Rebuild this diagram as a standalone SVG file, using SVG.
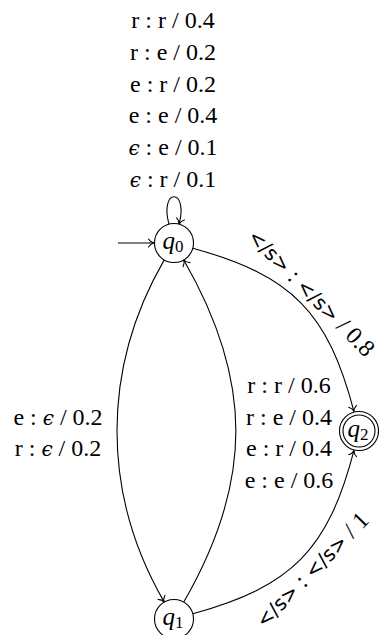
<svg xmlns="http://www.w3.org/2000/svg" width="379" height="635" viewBox="0 0 379 635">
<defs>
<style>
.edge{fill:none;stroke:#000;stroke-width:1.1;marker-end:url(#arr)}
.st{fill:#fff;stroke:#000;stroke-width:1.1}
.lbl{font-family:"Liberation Serif","DejaVu Serif",serif;font-size:24px;fill:#000;text-anchor:middle}
.q{font-family:"Liberation Serif","DejaVu Serif",serif;font-size:25px;font-style:italic;fill:#000;text-anchor:middle}
.sub{font-style:normal;font-size:17px}
.eps{font-style:italic;font-family:"DejaVu Serif",serif;font-size:20px}
.tag{font-family:"DejaVu Sans","Liberation Sans",sans-serif;font-size:20px}
</style>
<marker id="arr" markerUnits="userSpaceOnUse" markerWidth="12" markerHeight="12" viewBox="-7 -6 8 12" refX="0" refY="0" orient="auto" overflow="visible">
<path d="M -5.5 -4 C -4 -1.5, -1.5 -0.3, 0 0 C -1.5 0.3, -4 1.5, -5.5 4" fill="none" stroke="#000" stroke-width="1.1" stroke-linecap="round"/>
</marker>
</defs>

<g id="connectors">
<path class="edge" d="M 118 243 L 154 243"/>
<path class="edge" d="M 168.95 224.2 C 159.1 187.5, 188.9 187.5, 179.05 224.2"/>
<path class="edge" d="M 192.8 248.2 C 292 275.5, 328 312, 354 411.6"/>
<path class="edge" d="M 192.8 613.8 C 292 586.5, 328 550, 354 450.4"/>
<path class="edge" d="M 164.25 259.9 C 101.25 369, 101.25 493, 164.25 602.1"/>
<path class="edge" d="M 183.75 602.1 C 253.25 481.7, 253.25 380.3, 183.75 259.9"/>
</g>

<g id="labels">
<text class="lbl" x="173" y="28">r : r / 0.4</text>
<text class="lbl" x="173" y="60">r : e / 0.2</text>
<text class="lbl" x="173" y="92">e : r / 0.2</text>
<text class="lbl" x="173" y="123">e : e / 0.4</text>
<text class="lbl" x="173" y="155"><tspan class="eps">ϵ</tspan> : e / 0.1</text>
<text class="lbl" x="173" y="187"><tspan class="eps">ϵ</tspan> : r / 0.1</text>

<text class="lbl" x="58" y="425">e : <tspan class="eps">ϵ</tspan> / 0.2</text>
<text class="lbl" x="58" y="456">r : <tspan class="eps">ϵ</tspan> / 0.2</text>

<text class="lbl" x="289" y="393">r : r / 0.6</text>
<text class="lbl" x="289" y="425">r : e / 0.4</text>
<text class="lbl" x="289" y="456">e : r / 0.4</text>
<text class="lbl" x="289" y="488">e : e / 0.6</text>

<g transform="translate(301,303) rotate(45.4)">
<text class="lbl" x="0" y="-7"><tspan class="tag">&lt;/s&gt;</tspan> : <tspan class="tag">&lt;/s&gt;</tspan> / 0.8</text>
</g>
<g transform="translate(301,559) rotate(-45.4)">
<text class="lbl" x="0" y="23"><tspan class="tag">&lt;/s&gt;</tspan> : <tspan class="tag">&lt;/s&gt;</tspan> / 1</text>
</g>
</g>

<g id="q0">
<circle class="st" cx="174" cy="243" r="19.5"/>
<text class="q" x="173" y="249">q<tspan class="sub" dy="3">0</tspan></text>
</g>
<g id="q1">
<circle class="st" cx="174" cy="619" r="19.5"/>
<text class="q" x="173" y="625">q<tspan class="sub" dy="3">1</tspan></text>
</g>
<g id="q2">
<circle class="st" cx="359" cy="431" r="19.5"/>
<circle class="st" cx="359" cy="431" r="16"/>
<text class="q" x="358" y="437">q<tspan class="sub" dy="3">2</tspan></text>
</g>
</svg>
